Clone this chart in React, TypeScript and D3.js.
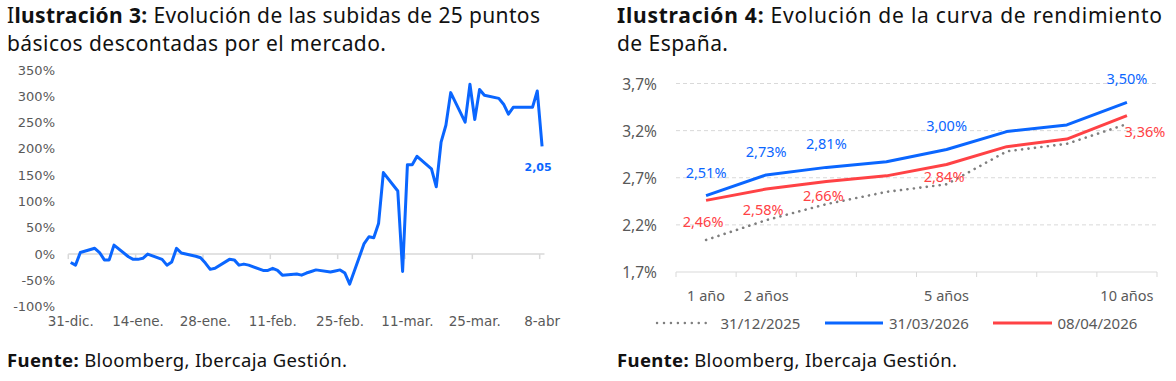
import React from "react";
import * as d3 from "d3";

// ---------- Ilustración 3 data ----------
const hikeDates = [
  "2025-12-31", "2026-01-01", "2026-01-02", "2026-01-05", "2026-01-06", "2026-01-07", "2026-01-08", "2026-01-09",
  "2026-01-12", "2026-01-13", "2026-01-14", "2026-01-15", "2026-01-16",
  "2026-01-19", "2026-01-20", "2026-01-21", "2026-01-22", "2026-01-23",
  "2026-01-26", "2026-01-27", "2026-01-28", "2026-01-29", "2026-01-30",
  "2026-02-02", "2026-02-03", "2026-02-04", "2026-02-05", "2026-02-06",
  "2026-02-09", "2026-02-10", "2026-02-11", "2026-02-12", "2026-02-13",
  "2026-02-16", "2026-02-17", "2026-02-18", "2026-02-19", "2026-02-20",
  "2026-02-23", "2026-02-24", "2026-02-25", "2026-02-26", "2026-02-27",
  "2026-03-02", "2026-03-03", "2026-03-04", "2026-03-05", "2026-03-06",
  "2026-03-09", "2026-03-10", "2026-03-11", "2026-03-12", "2026-03-13",
  "2026-03-16", "2026-03-17", "2026-03-18", "2026-03-19", "2026-03-20",
  "2026-03-23", "2026-03-24", "2026-03-25", "2026-03-26", "2026-03-27",
  "2026-03-30", "2026-03-31", "2026-04-01", "2026-04-02", "2026-04-03",
  "2026-04-06", "2026-04-07", "2026-04-08",
];
const hikeValues = [
  -16, -21, 3, 11, 3, -11, -11, 17,
  -5, -10, -10, -8, 0,
  -10, -21, -15, 11, 2,
  -4, -7, -17, -29, -27,
  -10, -11, -21, -19, -21,
  -31, -31, -27, -31, -40,
  -38, -40, -36, -33, -30,
  -34, -32, -30, -36, -57,
  20, 33, 31, 58, 155,
  120, -33, 170, 170, 186,
  162, 128, 213, 245, 307,
  251, 323, 256, 313, 302,
  296, 285, 266, 279, 279,
  279, 310, 205,
];
const hikeTickDates = ["2025-12-31", "2026-01-14", "2026-01-28", "2026-02-11", "2026-02-25", "2026-03-11", "2026-03-25", "2026-04-08"];
const hikeTickLabels = ["31-dic.", "14-ene.", "28-ene.", "11-feb.", "25-feb.", "11-mar.", "25-mar.", "8-abr"];
const hikeYTicks = [-100, -50, 0, 50, 100, 150, 200, 250, 300, 350];
const hikeLastLabel = "2,05";

// ---------- Ilustración 4 data ----------
const tenors = ["1 año", "2 años", "3 años", "4 años", "5 años", "7 años", "8 años", "10 años"];
const tenorLabelsShown = ["1 año", "2 años", "5 años", "10 años"];
const curveDec2025 = [2.04, 2.25, 2.42, 2.55, 2.63, 2.98, 3.06, 3.27];
const curveMar2026 = [2.51, 2.73, 2.81, 2.87, 3.0, 3.19, 3.26, 3.5];
const curveApr2026 = [2.46, 2.58, 2.66, 2.72, 2.84, 3.03, 3.11, 3.36];
const labeledIdx = [0, 1, 2, 4, 7];
const curveYTicks = [1.7, 2.2, 2.7, 3.2, 3.7];
const seriesNames = ["31/12/2025", "31/03/2026", "08/04/2026"];

// ---------- styles ----------
const BLUE = "#0A66FF";
const RED = "#FF4245";
const GREY = "#7F7F7F";
const AXIS_TXT = "#595959";
const LINE_GREY = "#D9D9D9";
const TITLE_FONT = "'Noto Sans', 'Open Sans', sans-serif";
const LEFT_FONT = "'DejaVu Sans', Verdana, sans-serif";
const RIGHT_FONT = "'Noto Sans', 'Open Sans', sans-serif";

// label offsets for the red series (dx, dy of text centre relative to point)
const redLabelOffsets: [number, number][] = [[-3, 21], [-3, 20], [-3, 13], [0, 0], [-2.5, 11], [0, 0], [0, 0], [18, 15]];

const parse = d3.utcParse("%Y-%m-%d");
const fmtPct = (v: number) => v.toFixed(2).replace(".", ",") + "%";

export default function App() {
  // Left chart scales
  const day = 24 * 3600 * 1000;
  const start = parse(hikeTickDates[0])!;
  const end = new Date(parse(hikeTickDates[hikeTickDates.length - 1])!.getTime() + day);
  const xL = d3.scaleUtc().domain([start, end]).range([68.3, 544.5]);
  const yL = d3.scaleLinear().domain([-100, 350]).range([306.7, 70]);
  const mid = (s: string) => new Date(parse(s)!.getTime() + day / 2);
  const hikeLine = d3
    .line<number>()
    .x((_, i) => xL(mid(hikeDates[i])))
    .y((v) => yL(v))(hikeValues);
  const lastX = xL(mid(hikeDates[hikeDates.length - 1]));

  // Right chart scales
  const xR = d3.scaleBand<string>().domain(tenors).range([676, 1157]).padding(0);
  const yR = d3.scaleLinear().domain([1.7, 3.7]).range([272, 83.5]);
  const cx = (t: string) => xR(t)! + xR.bandwidth() / 2;
  const mk = (arr: number[]) =>
    d3
      .line<number>()
      .x((_, i) => cx(tenors[i]))
      .y((v) => yR(v))(arr);

  const boundaries = tenors.map((t) => xR(t)!).concat([xR.range()[1]]);

  return (
    <svg width={1176} height={381} style={{ position: "absolute", left: 0, top: 0, background: "#fff" }}>
      <rect width={1176} height={381} fill="#fff" />
      {/* Titles */}
      <g fontFamily={TITLE_FONT} fontSize={21} fill="#111">
        <text x={7} y={23} textLength={533} lengthAdjust="spacing">
          <tspan>I</tspan>
          <tspan fontWeight="bold">lustración 3:</tspan>
          <tspan> Evolución de las subidas de 25 puntos</tspan>
        </text>
        <text x={7} y={51} textLength={379} lengthAdjust="spacing">básicos descontadas por el mercado.</text>
        <text x={617} y={23} textLength={545} lengthAdjust="spacing">
          <tspan fontWeight="bold">Ilustración 4:</tspan>
          <tspan> Evolución de la curva de rendimiento</tspan>
        </text>
        <text x={617} y={51} textLength={111} lengthAdjust="spacing">de España.</text>
      </g>
      <g fontFamily={TITLE_FONT} fontSize={18.5} fill="#111">
        <text x={7} y={367} textLength={340} lengthAdjust="spacing">
          <tspan fontWeight="bold">Fuente:</tspan>
          <tspan> Bloomberg, Ibercaja Gestión.</tspan>
        </text>
        <text x={617} y={367} textLength={340} lengthAdjust="spacing">
          <tspan fontWeight="bold">Fuente:</tspan>
          <tspan> Bloomberg, Ibercaja Gestión.</tspan>
        </text>
      </g>

      {/* Left chart */}
      <g fontFamily={LEFT_FONT} fontSize={13} fill={AXIS_TXT}>
        {hikeYTicks.map((t) => (
          <text key={t} x={55} y={yL(t)} textAnchor="end" dominantBaseline="central">
            {t + "%"}
          </text>
        ))}
      </g>
      <line x1={xL(start)} x2={xL(end)} y1={yL(0)} y2={yL(0)} stroke={LINE_GREY} strokeWidth={1.5} />
      {hikeTickDates.map((d) => (
        <line key={d} x1={xL(parse(d)!)} x2={xL(parse(d)!)} y1={yL(0)} y2={yL(0) + 5} stroke={LINE_GREY} strokeWidth={1.5} />
      ))}
      <g fontFamily={LEFT_FONT} fontSize={13.5} fill={AXIS_TXT}>
        {hikeTickDates.map((d, i) => (
          <text key={d} x={xL(mid(d))} y={326} textAnchor="middle">
            {hikeTickLabels[i]}
          </text>
        ))}
      </g>
      <path d={hikeLine!} fill="none" stroke={BLUE} strokeWidth={3} strokeLinejoin="round" />
      <text
        x={lastX - 4}
        y={yL(hikeValues[hikeValues.length - 1]) + 21}
        textAnchor="middle"
        dominantBaseline="central"
        fontFamily={LEFT_FONT}
        fontWeight="bold"
        fontSize={11}
        fill={BLUE}
      >
        {hikeLastLabel}
      </text>

      {/* Right chart */}
      {curveYTicks.map((t, i) =>
        i === 0 ? null : (
          <line key={t} x1={676} x2={1157} y1={yR(t)} y2={yR(t)} stroke={LINE_GREY} strokeWidth={1} strokeDasharray="4 3" />
        )
      )}
      <line x1={676} x2={1157} y1={yR(1.7)} y2={yR(1.7)} stroke={LINE_GREY} strokeWidth={1} />
      {boundaries.map((b, i) => (
        <line key={i} x1={b} x2={b} y1={yR(1.7)} y2={yR(1.7) + 5} stroke={LINE_GREY} strokeWidth={1} />
      ))}
      <g fontFamily={RIGHT_FONT} fontSize={15.5} fill={AXIS_TXT}>
        {curveYTicks.map((t) => (
          <text key={t} x={657} y={yR(t)} textAnchor="end" dominantBaseline="central">
            {t.toFixed(1).replace(".", ",") + "%"}
          </text>
        ))}
      </g>
      <g fontFamily={RIGHT_FONT} fontSize={14.5} fill={AXIS_TXT}>
        {tenors.map((t) =>
          tenorLabelsShown.includes(t) ? (
            <text key={t} x={cx(t)} y={295} textAnchor="middle" dominantBaseline="central">
              {t}
            </text>
          ) : null
        )}
      </g>
      <path d={mk(curveDec2025)!} fill="none" stroke={GREY} strokeWidth={2.6} strokeLinecap="round" strokeDasharray="0.1 6.4" />
      <path d={mk(curveApr2026)!} fill="none" stroke={RED} strokeWidth={3} strokeLinejoin="round" />
      <path d={mk(curveMar2026)!} fill="none" stroke={BLUE} strokeWidth={3} strokeLinejoin="round" />
      <g fontFamily={RIGHT_FONT} fontSize={14.5}>
        {labeledIdx.map((i) => (
          <text key={"b" + i} x={cx(tenors[i])} y={yR(curveMar2026[i]) - 24} textAnchor="middle" dominantBaseline="central" fill={BLUE}>
            {fmtPct(curveMar2026[i])}
          </text>
        ))}
        {labeledIdx.map((i) => (
          <text
            key={"r" + i}
            x={cx(tenors[i]) + redLabelOffsets[i][0]}
            y={yR(curveApr2026[i]) + redLabelOffsets[i][1]}
            textAnchor="middle"
            dominantBaseline="central"
            fill={RED}
          >
            {fmtPct(curveApr2026[i])}
          </text>
        ))}
      </g>

      {/* Legend */}
      <g fontFamily={RIGHT_FONT} fontSize={15} fill={AXIS_TXT}>
        <line x1={657} x2={712} y1={323} y2={323} stroke={GREY} strokeWidth={2.4} strokeLinecap="round" strokeDasharray="0.1 6.85" />
        <text x={720.5} y={323} dominantBaseline="central">{seriesNames[0]}</text>
        <line x1={825} x2={883} y1={323} y2={323} stroke={BLUE} strokeWidth={3} />
        <text x={889} y={323} dominantBaseline="central">{seriesNames[1]}</text>
        <line x1={993} x2={1052} y1={323} y2={323} stroke={RED} strokeWidth={3} />
        <text x={1057.5} y={323} dominantBaseline="central">{seriesNames[2]}</text>
      </g>
    </svg>
  );
}
